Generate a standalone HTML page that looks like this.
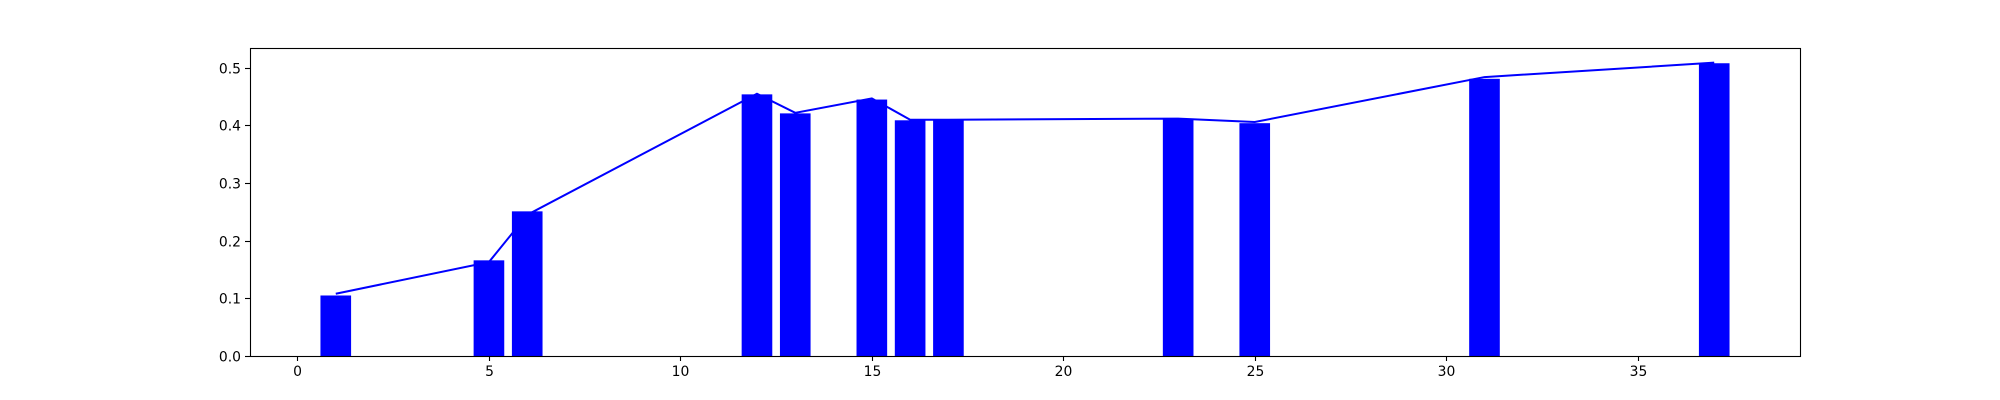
<!DOCTYPE html>
<html><head><meta charset="utf-8"><style>html,body{margin:0;padding:0;background:#fff}svg{display:block}text{font-family:"DejaVu Sans","Liberation Sans",sans-serif;font-size:13.9px;fill:#000}</style></head>
<body>
<svg id="chart" width="2000" height="400" xmlns="http://www.w3.org/2000/svg">
<g id="plot"></g>
</svg>
<script>
const categories = [1, 5, 6, 12, 13, 15, 16, 17, 23, 25, 31, 37];
const barValues = [0.105, 0.166, 0.251, 0.454, 0.421, 0.445, 0.409, 0.409, 0.411, 0.404, 0.481, 0.508];
const lineValues = [0.108, 0.163, 0.245, 0.455, 0.422, 0.447, 0.410, 0.410, 0.412, 0.406, 0.484, 0.509];
const xTicks = [0, 5, 10, 15, 20, 25, 30, 35];
const yTicks = [0.0, 0.1, 0.2, 0.3, 0.4, 0.5];
const yTickLabels = ["0.0", "0.1", "0.2", "0.3", "0.4", "0.5"];

const L = 250, R = 1800, T = 48, B = 356;
const barW = 0.8;
const xmin0 = Math.min(...categories) - barW / 2, xmax0 = Math.max(...categories) + barW / 2;
const xm = (xmax0 - xmin0) * 0.05;
const xmin = xmin0 - xm, xmax = xmax0 + xm;
const ymax = Math.max(...barValues, ...lineValues) * 1.05;
const sx = v => L + (v - xmin) / (xmax - xmin) * (R - L);
const sy = v => B - v / ymax * (B - T);
const NS = "http://www.w3.org/2000/svg";
const g = document.getElementById('plot');
function mk(tag, attrs) { const e = document.createElementNS(NS, tag); for (const k in attrs) e.setAttribute(k, attrs[k]); g.appendChild(e); return e; }

categories.forEach((c, i) => {
  const r = mk('rect', { x: sx(c - barW / 2), y: sy(barValues[i]), width: sx(c + barW / 2) - sx(c - barW / 2), height: B - sy(barValues[i]), fill: '#0000ff' });
  
  
});
const pl = mk('polyline', { points: categories.map((c, i) => sx(c) + ',' + sy(lineValues[i])).join(' '), fill: 'none', stroke: '#0000ff', 'stroke-width': 2 });



const frame = mk('rect', { x: L + 0.5, y: T + 0.5, width: R - L, height: B - T, fill: 'none', stroke: '#000', 'stroke-width': 1.1 });



xTicks.forEach(t => {
  const x = Math.round(sx(t)) + 0.5;
  const tk = mk('line', { x1: x, x2: x, y1: B, y2: B + 5, stroke: '#000', 'stroke-width': 1.1 });
  
  
  const tx = mk('text', { x: x, y: B + 20, 'text-anchor': 'middle' });
  tx.textContent = t;
  
  
});
yTicks.forEach((t, i) => {
  const y = Math.round(sy(t)) + 0.5;
  const tk = mk('line', { x1: L - 5, x2: L, y1: y, y2: y, stroke: '#000', 'stroke-width': 1.1 });
  
  
  const tx = mk('text', { x: L - 9, y: y + 5, 'text-anchor': 'end' });
  tx.textContent = yTickLabels[i];
  
  
});
</script>
</body></html>
